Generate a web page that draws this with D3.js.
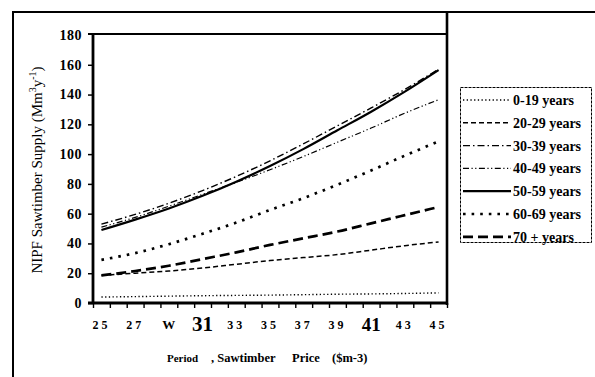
<!DOCTYPE html>
<html>
<head>
<meta charset="utf-8">
<script src="https://cdn.jsdelivr.net/npm/d3@7"></script>
<style>
  html, body { margin: 0; padding: 0; background: #fff; }
  svg { display: block; }
  text { font-family: "Liberation Serif", "Times New Roman", serif; fill: #000; }
</style>
</head>
<body>
<svg id="chart" width="595" height="377"></svg>
<script>
// Sawtimber price periods ($ per m3)
const periods = [25, 27, 29, 31, 33, 35, 37, 39, 41, 43, 45];
const tickLabels = ["25", "27", "W", "31", "33", "35", "37", "39", "41", "43", "45"];
const yTicks = [0, 20, 40, 60, 80, 100, 120, 140, 160, 180];

// NIPF sawtimber supply (Mm3/yr) by landowner age class
const age0_19  = [4.0, 4.3, 4.6, 4.9, 5.1, 5.3, 5.6, 5.9, 6.1, 6.4, 6.8];
const age20_29 = [18.5, 20, 21.5, 23.5, 26, 28.5, 30.5, 32.5, 35.5, 38.5, 41];
const age30_39 = [53, 59.5, 67, 75.5, 85, 95.5, 107, 119, 131, 143.5, 157];
const age40_49 = [51, 57.5, 65, 73, 81, 89.5, 98.5, 108, 117.5, 127.5, 136.5];
const age50_59 = [49, 56, 63.5, 72, 81.5, 92, 103.5, 116, 128.5, 142, 156.5];
const age60_69 = [29, 33.5, 39.5, 46.5, 54, 62.5, 70.5, 79.5, 89, 99, 108.5];
const age70up  = [18.5, 21.5, 25, 29.5, 34, 39, 43.5, 48, 53.5, 59, 64.5];

const seriesNames = ["0-19 years", "20-29 years", "30-39 years", "40-49 years",
                     "50-59 years", "60-69 years", "70 + years"];
const seriesValues = [age0_19, age20_29, age30_39, age40_49, age50_59, age60_69, age70up];

// line styling per age class
const styles = [
  { width: 1.4, dash: "1.3,2.4" },
  { width: 1.5, dash: "5,3" },
  { width: 1.4, dash: "7,3,1.5,3" },
  { width: 1.2, dash: "6,2.5,1.2,2.5,1.2,2.5" },
  { width: 2.2, dash: null },
  { width: 2.7, dash: "2.6,6" },
  { width: 2.7, dash: "10,5" }
];

const svg = d3.select("#chart");

// outer frame lines
svg.append("line").attr("x1", 13).attr("x2", 13).attr("y1", 12).attr("y2", 377)
  .attr("stroke", "#000").attr("stroke-width", 2);
svg.append("line").attr("x1", 12).attr("x2", 595).attr("y1", 12).attr("y2", 12)
  .attr("stroke", "#000").attr("stroke-width", 2);

const plotLeft = 93, plotRight = 447, plotTop = 35, plotBottom = 303;

// category axis: each period occupies one unit band
const x = d3.scaleLinear().domain([24.5, 45.5]).range([plotLeft, plotRight]);
const y = d3.scaleLinear().domain([0, 180]).range([plotBottom, plotTop]);

// plot frame
svg.append("line").attr("x1", 88).attr("x2", plotRight).attr("y1", plotTop - 1).attr("y2", plotTop - 1)
  .attr("stroke", "#000").attr("stroke-width", 1.8);
svg.append("line").attr("x1", plotRight).attr("x2", plotRight).attr("y1", 12).attr("y2", plotBottom + 2)
  .attr("stroke", "#000").attr("stroke-width", 2.6);

// y axis
const yAxis = d3.axisLeft(y).tickValues(yTicks.slice(0, -1)).tickSize(5).tickFormat("");
const gy = svg.append("g").attr("transform", `translate(${plotLeft},0)`).call(yAxis);
gy.select(".domain").attr("stroke-width", 2.8).attr("d", `M0,${plotTop - 1}V${plotBottom + 1}`);
gy.selectAll(".tick line").attr("stroke-width", 1.5);

svg.append("g").selectAll("text").data(yTicks).join("text")
  .attr("x", 82).attr("y", d => y(d))
  .attr("dy", "0.35em")
  .attr("text-anchor", "end")
  .style("font-size", "14px").style("font-weight", "bold").style("letter-spacing", "0.5px")
  .text(d => d);

// x axis with ticks at category boundaries
const boundaries = d3.range(24.5, 45.6, 1);
const xAxis = d3.axisBottom(x).tickValues(boundaries).tickSize(5).tickFormat("");
const gx = svg.append("g").attr("transform", `translate(0,${plotBottom})`).call(xAxis);
gx.select(".domain").attr("stroke-width", 2.8).attr("d", `M88,0H${plotRight + 1}`);
gx.selectAll(".tick line").attr("stroke-width", 1.4);

svg.append("g").selectAll("text").data(periods).join("text")
  .attr("x", d => x(d))
  .attr("y", (d, i) => (tickLabels[i] === "31" || tickLabels[i] === "41") ? 331 : 329)
  .attr("text-anchor", "middle")
  .style("font-weight", "bold")
  .style("font-size", (d, i) => tickLabels[i] === "31" ? "21px" : tickLabels[i] === "41" ? "19px" : (tickLabels[i] === "W" ? "13px" : "12px"))
  .style("letter-spacing", (d, i) => (tickLabels[i] === "31" || tickLabels[i] === "41" || tickLabels[i] === "W") ? "0px" : "3px")
  .text((d, i) => tickLabels[i]);

// series lines
const line = d3.line().x((d, i) => x(periods[i])).y(d => y(d)).curve(d3.curveMonotoneX);
svg.append("g").selectAll("path").data(seriesValues).join("path")
  .attr("d", d => line(d))
  .attr("fill", "none")
  .attr("stroke", "#000")
  .attr("stroke-width", (d, i) => styles[i].width)
  .attr("stroke-dasharray", (d, i) => styles[i].dash);

// y axis title
const yTitle = svg.append("text")
  .attr("transform", "translate(42,170) rotate(-90)")
  .attr("text-anchor", "middle")
  .style("font-size", "15px");
yTitle.append("tspan").text("NIPF Sawtimber Supply (Mm");
yTitle.append("tspan").attr("dy", -6).style("font-size", "10px").text("3");
yTitle.append("tspan").attr("dy", 6).text("y");
yTitle.append("tspan").attr("dy", -6).style("font-size", "10px").text("-1");
yTitle.append("tspan").attr("dy", 6).text(")");

// x axis title
const xTitle = svg.append("text").attr("x", 167).attr("y", 362).style("font-weight", "bold");
xTitle.append("tspan").style("font-size", "11px").text("Period");
xTitle.append("tspan").attr("x", 211).style("font-size", "12.5px").text(", Sawtimber");
xTitle.append("tspan").attr("x", 292).style("font-size", "12.5px").text("Price");
xTitle.append("tspan").attr("x", 332).style("font-size", "12.5px").text("($m-3)");

// legend
const lg = svg.append("g");
lg.append("rect").attr("x", 460.5).attr("y", 87.5).attr("width", 131).attr("height", 155)
  .attr("fill", "none").attr("stroke", "#000").attr("stroke-width", 1).attr("stroke-dasharray", "3,1");
const rowY = i => 100 + i * 22.8;
lg.selectAll("line").data(seriesNames).join("line")
  .attr("x1", 463).attr("x2", 511)
  .attr("y1", (d, i) => rowY(i)).attr("y2", (d, i) => rowY(i))
  .attr("stroke", "#000")
  .attr("stroke-width", (d, i) => styles[i].width)
  .attr("stroke-dasharray", (d, i) => styles[i].dash);
lg.selectAll("text").data(seriesNames).join("text")
  .attr("x", 513).attr("y", (d, i) => rowY(i))
  .attr("dy", "0.35em")
  .style("font-size", "14px").style("font-weight", "bold")
  .text(d => d);
</script>
</body>
</html>
